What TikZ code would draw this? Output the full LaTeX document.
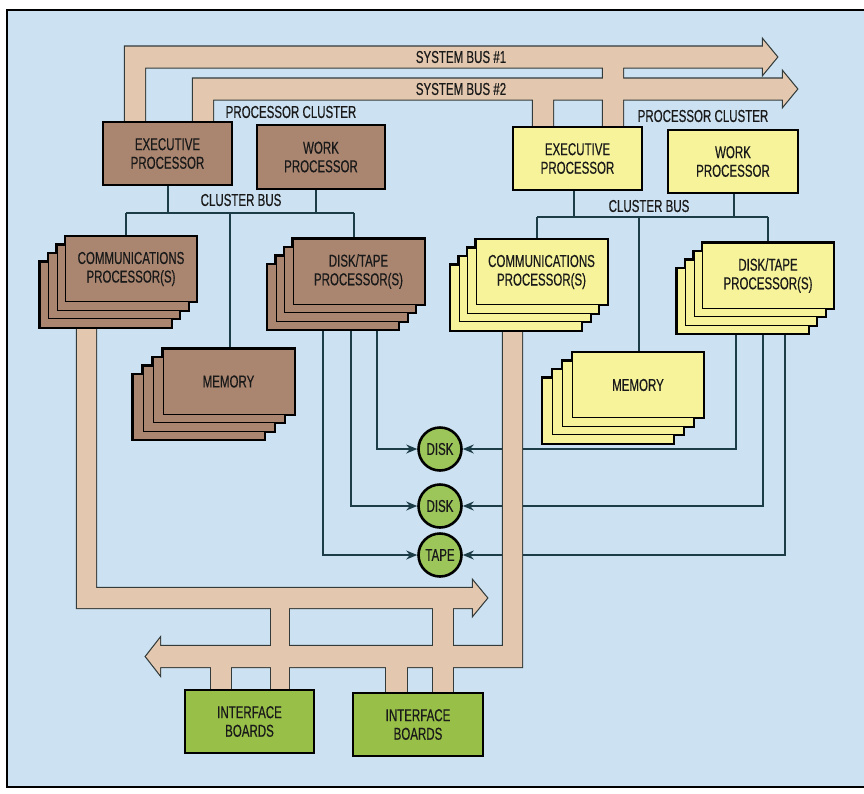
\documentclass[tikz,border=0pt]{standalone}
\usepackage{fontspec}
\setmainfont{Liberation Sans}[FakeStretch=0.67,FakeBold=0.4]
\usetikzlibrary{arrows.meta}
\pgfdeclarelayer{bg}
\pgfdeclarelayer{lines}
\pgfdeclarelayer{buses}
\pgfsetlayers{bg,lines,buses,main}
\definecolor{bgblue}{RGB}{204,226,242}
\definecolor{bustan}{RGB}{227,200,175}
\definecolor{brownbox}{RGB}{170,134,113}
\definecolor{yellowbox}{RGB}{246,243,155}
\definecolor{greenbox}{RGB}{152,192,72}
\definecolor{greencirc}{RGB}{156,198,90}
\definecolor{linecol}{RGB}{28,60,72}
\definecolor{buslinecol}{RGB}{50,58,58}
\definecolor{txtcol}{RGB}{25,25,25}
\tikzset{
  lbl/.style={font=\fontsize{17.2}{18.6}\selectfont, align=center, inner sep=0pt, text=txtcol},
  box/.style={lbl, rectangle, draw=black, line width=2.6pt},
  stk/.style={lbl, rectangle, draw=black, minimum width=131, minimum height=65},
  disk/.style={lbl, circle, draw=black, line width=2.6pt, fill=greencirc, minimum size=43},
  conn/.style={draw=linecol, line width=1.2pt},
  arr/.style={conn, -{Stealth[length=11pt,width=9pt]}},
  busout/.style={draw=buslinecol, line width=2.4pt, line join=miter},
}
\newcommand{\mystack}[7]{%
  \foreach \i in {3,2,1,0}{
    \node[stk, fill=#6, line width=3.6pt, name=#1s\i] at ({#2-\i*#4},{#3+\i*#5}) {};
  }
  \foreach \i in {3,2,1}{
    \node[stk, fill=#6, line width=1pt, name=#1l\i] at ({#2-\i*#4},{#3+\i*#5}) {};
  }
  \node[stk, fill=#6, line width=1pt, name=#1] at (#2,#3) {#7};
}
\def\busone{(125,124) -- (125,46.5) -- (763,46.5) -- (763,40) -- (777,57) -- (763,74) -- (763,67.5) -- (623,67.5) -- (623,129) -- (603,129) -- (603,67.5) -- (145,67.5) -- (145,124) -- cycle}
\def\bustwo{(193,124) -- (193,78.5) -- (783,78.5) -- (783,72) -- (797,89) -- (783,106) -- (783,99.5) -- (553,99.5) -- (553,129) -- (533,129) -- (533,99.5) -- (213,99.5) -- (213,124) -- cycle}
\def\busthree{(77,320) -- (77,608) -- (473,608) -- (473,615) -- (487,598) -- (473,581) -- (473,588) -- (96,588) -- (96,320) -- cycle}
\def\busfour{(160,646) -- (160,638.5) -- (146,656.5) -- (160,674.5) -- (160,667) -- (522,667) -- (522,322) -- (503,322) -- (503,646) -- cycle}
\def\stubA{(271,600) rectangle (289,693)}
\def\stubB{(433,600) rectangle (453,696)}
\def\stubC{(211,660) rectangle (231,693)}
\def\stubD{(386,660) rectangle (407,696)}
\begin{document}
\begin{tikzpicture}[x=1pt,y=-1pt]
\useasboundingbox (0,0) rectangle (864,793);
\begin{pgfonlayer}{bg}
  \fill[white] (0,0) rectangle (864,793);
  \fill[bgblue] (7,10) rectangle (864,787);
  \draw[line width=2pt] (864,10) -- (7,10) -- (7,787) -- (864,787);
\end{pgfonlayer}

% processors
\node[box, fill=brownbox, minimum width=129, minimum height=63] (lexec) at (167.5,153.5) {EXECUTIVE\\PROCESSOR};
\node[box, fill=brownbox, minimum width=128, minimum height=64] (lwork) at (321,157) {WORK\\PROCESSOR};
\node[box, fill=yellowbox, minimum width=129, minimum height=63] (rexec) at (577.5,158.5) {EXECUTIVE\\PROCESSOR};
\node[box, fill=yellowbox, minimum width=130, minimum height=63] (rwork) at (733,161.5) {WORK\\PROCESSOR};

% stacks
\mystack{lcomm}{131}{269}{8.5}{8.5}{brownbox}{COMMUNICATIONS\\PROCESSOR(S)}
\mystack{ldt}{358.5}{271.5}{8.5}{8.5}{brownbox}{DISK/TAPE\\PROCESSOR(S)}
\mystack{lmem}{228.5}{381.5}{10}{8.5}{brownbox}{MEMORY}
\mystack{rcomm}{541.5}{272}{8.5}{8.5}{yellowbox}{COMMUNICATIONS\\PROCESSOR(S)}
\mystack{rdt}{768}{275.5}{8.5}{8.5}{yellowbox}{DISK/TAPE\\PROCESSOR(S)}
\mystack{rmem}{638}{385}{10}{8.5}{yellowbox}{MEMORY}

% disks
\node[disk] (disk1) at (440,449) {DISK};
\node[disk] (disk2) at (440,506) {DISK};
\node[disk] (tape) at (440,555) {TAPE};

% interface boards
\node[box, fill=greenbox, minimum width=129, minimum height=63] (ib1) at (249.5,721.5) {INTERFACE\\BOARDS};
\node[box, fill=greenbox, minimum width=130, minimum height=63] (ib2) at (418,724.5) {INTERFACE\\BOARDS};

% labels
\node[lbl] (sb1) at (461,57) {SYSTEM BUS \#1};
\node[lbl] (sb2) at (461,89) {SYSTEM BUS \#2};
\node[lbl] (lpc) at (291,112) {PROCESSOR CLUSTER};
\node[lbl] (rpc) at (703,116) {PROCESSOR CLUSTER};
\node[lbl] (lcbl) at (241,200) {CLUSTER BUS};
\node[lbl] (rcbl) at (649,206) {CLUSTER BUS};

% thin connectors
\begin{pgfonlayer}{lines}
  \coordinate (lj1) at (126,213);
  \coordinate (lj2) at (168,213);
  \coordinate (lj3) at (230,213);
  \coordinate (lj4) at (316,213);
  \coordinate (lj5) at (354,213);
  \draw[conn] (lj1) -- (lj5);
  \draw[conn] (lj2) -- (lj2 |- lexec.south);
  \draw[conn] (lj4) -- (lj4 |- lwork.south);
  \draw[conn] (lj1) -- (lj1 |- lcomm.north);
  \draw[conn] (lj3) -- (lj3 |- lmem.north);
  \draw[conn] (lj5) -- (lj5 |- ldt.north);

  \coordinate (rj1) at (537,217);
  \coordinate (rj2) at (574,217);
  \coordinate (rj3) at (639,217);
  \coordinate (rj4) at (734,217);
  \coordinate (rj5) at (768,217);
  \draw[conn] (rj1) -- (rj5);
  \draw[conn] (rj2) -- (rj2 |- rexec.south);
  \draw[conn] (rj4) -- (rj4 |- rwork.south);
  \draw[conn] (rj1) -- (rj1 |- rcomm.north);
  \draw[conn] (rj3) -- (rj3 |- rmem.north);
  \draw[conn] (rj5) -- (rj5 |- rdt.north);

  \coordinate (la) at (323,0);
  \coordinate (lb) at (351,0);
  \coordinate (lc) at (377,0);
  \draw[arr] (lc |- ldtl3.center) |- (disk1.west);
  \draw[arr] (lb |- ldtl3.center) |- (disk2.west);
  \draw[arr] (la |- ldtl3.center) |- (tape.west);

  \coordinate (ra) at (736,0);
  \coordinate (rb) at (763,0);
  \coordinate (rc) at (785,0);
  \draw[arr] (ra |- rdtl3.center) |- (disk1.east);
  \draw[arr] (rb |- rdtl3.center) |- (disk2.east);
  \draw[arr] (rc |- rdtl3.center) |- (tape.east);
\end{pgfonlayer}

% buses
\begin{pgfonlayer}{buses}
  \draw[busout] \busone;
  \draw[busout] \bustwo;
  \draw[busout] \busthree;
  \draw[busout] \busfour;
  \draw[busout] \stubA;
  \draw[busout] \stubB;
  \draw[busout] \stubC;
  \draw[busout] \stubD;
  \fill[bustan] \busone;
  \fill[bustan] \bustwo;
  \fill[bustan] \busthree;
  \fill[bustan] \busfour;
  \fill[bustan] \stubA;
  \fill[bustan] \stubB;
  \fill[bustan] \stubC;
  \fill[bustan] \stubD;
\end{pgfonlayer}
\end{tikzpicture}
\end{document}
